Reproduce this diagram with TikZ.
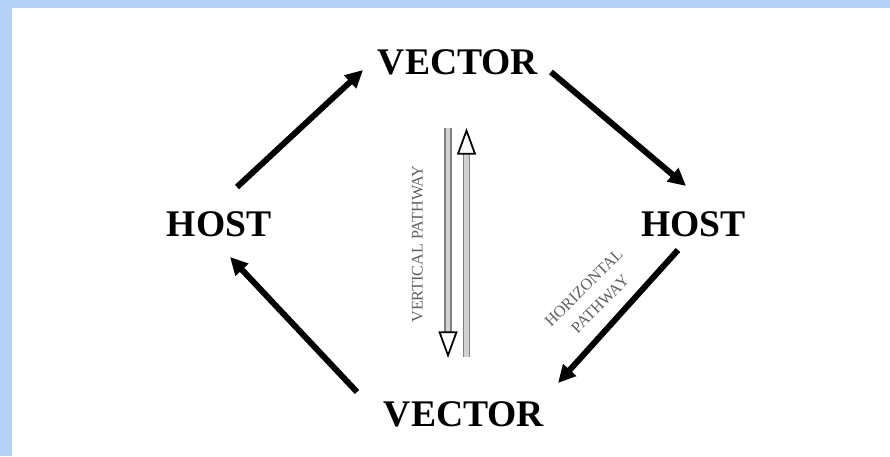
\documentclass[tikz,border=0pt]{standalone}
\usepackage{fontspec}
\setmainfont{Liberation Serif}
\usetikzlibrary{arrows.meta}
\definecolor{frameblue}{RGB}{180,209,247}

\begin{document}
\begin{tikzpicture}[
    stage/.style={inner sep=0pt, font=\bfseries\fontsize{10.7}{12}\selectfont},
    cycle/.style={line width=1.7pt, -{Triangle[length=5pt,width=4.8pt]}},
    vpath/.style={draw=gray, double=gray!35, double distance=1.2pt, line width=0.45pt},
    vhead/.style={line width=0.5pt, -{Triangle[open,length=7.6pt,width=5.4pt,fill=white]}},
    tag/.style={text=gray!75!black, inner sep=0pt, font=\fontsize{4.6}{6.6}\selectfont}
  ]
    \useasboundingbox (0,0) rectangle (8.9,4.56);
    % Blue frame
    \fill[frameblue] (0,0) rectangle (8.9,4.56);
    \fill[white] (0.12,0) rectangle (8.9,4.48);

    % Hosts and vectors
    \node[stage] (vecT) at (4.58,3.935) {VECTOR};
    \node[stage] (hostL) at (2.19,2.315) {HOST};
    \node[stage] (hostR) at (6.935,2.315) {HOST};
    \node[stage] (vecB) at (4.64,0.42) {VECTOR};

    % Transmission cycle
    \draw[cycle] ([shift={(0.18,0.375)}]hostL.center) -- ([shift={(-0.95,-0.075)}]vecT.center);
    \draw[cycle] ([shift={(0.93,-0.095)}]vecT.center) -- ([shift={(-0.075,0.385)}]hostR.center);
    \draw[cycle] ([shift={(-0.155,-0.255)}]hostR.center) -- ([shift={(0.94,0.31)}]vecB.center);
    \draw[cycle] ([shift={(-1.07,0.22)}]vecB.center) -- ([shift={(0.11,-0.325)}]hostL.center);

    % Vertical pathway
    \coordinate (downTop) at (4.48,3.28);
    \coordinate (downEnd) at (4.48,0.98);
    \coordinate (upBot) at (4.665,0.99);
    \coordinate (upEnd) at (4.665,3.28);
    \draw[vpath, shorten >=7pt] (downTop) -- (downEnd);
    \draw[vhead, shorten <=2.27cm] (downTop) -- (downEnd);
    \draw[vpath, shorten >=7pt] (upBot) -- (upEnd);
    \draw[vhead, shorten <=2.27cm] (upBot) -- (upEnd);

    \node[tag, rotate=90] (vlabel) at (4.175,2.12) {VERTICAL PATHWAY};
    \node[tag, rotate=45, align=center] (hlabel) at (5.92,1.6) {HORIZONTAL\\PATHWAY};
\end{tikzpicture}
\end{document}
